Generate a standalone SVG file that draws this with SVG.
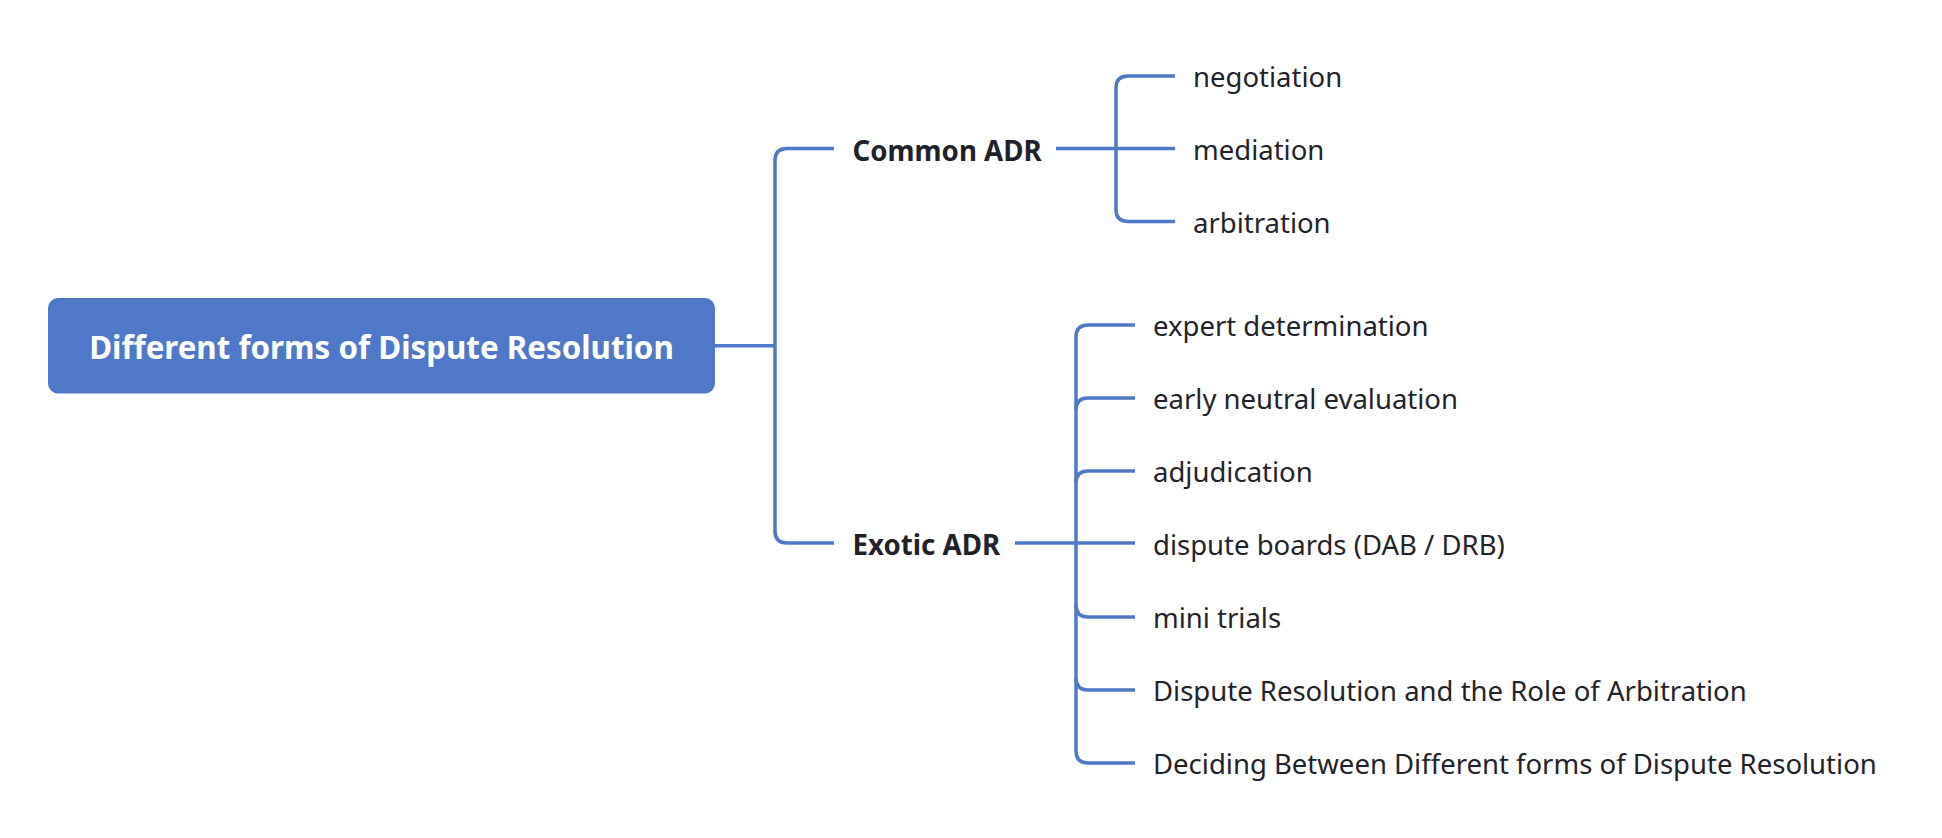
<svg xmlns="http://www.w3.org/2000/svg" width="1942" height="838" viewBox="0 0 1942 838">
<style>
.ln{fill:none;stroke:#5078c8;stroke-width:3.5;stroke-linecap:butt}
.root{fill:#5078c8}
.rt{font-family:"Noto Sans","Open Sans",sans-serif;font-weight:bold;font-size:31.3px;fill:#ffffff}
.b{font-family:"Noto Sans","Open Sans",sans-serif;font-weight:bold;font-size:27.7px;fill:#1f2329}
.t{font-family:"Noto Sans","Open Sans",sans-serif;font-size:27.5px;fill:#1f2329}
</style>
<rect width="1942" height="838" fill="#ffffff"/>
<g id="connectors">
<path class="ln" d="M715,345.7 H775"/>
<path class="ln" d="M834,148.5 H787 Q775,148.5 775,160.5 V531 Q775,543 787,543 H834"/>
<path class="ln" d="M1056,148.5 H1175"/>
<path class="ln" d="M1175,76 H1128 Q1116,76 1116,88 V209.5 Q1116,221.5 1128,221.5 H1175"/>
<path class="ln" d="M1015,543 H1135"/>
<path class="ln" d="M1135,325 H1088 Q1076,325 1076,337 V751 Q1076,763 1088,763 H1135"/>
<path class="ln" d="M1076,410 Q1076,398 1088,398 H1135"/>
<path class="ln" d="M1076,483 Q1076,471 1088,471 H1135"/>
<path class="ln" d="M1076,605 Q1076,617 1088,617 H1135"/>
<path class="ln" d="M1076,678 Q1076,690 1088,690 H1135"/>
</g>
<g id="root">
<rect class="root" x="48" y="298" width="667" height="95.5" rx="10"/>
<text class="rt" x="381.5" y="359" text-anchor="middle">Different forms of Dispute Resolution</text>
</g>
<g id="common-adr"><text class="b" x="852.5" y="160.5">Common ADR</text></g>
<g id="exotic-adr"><text class="b" x="852.5" y="554.5">Exotic ADR</text></g>
<g id="negotiation"><text class="t" x="1193" y="87">negotiation</text></g>
<g id="mediation"><text class="t" x="1193" y="159.5">mediation</text></g>
<g id="arbitration"><text class="t" x="1193" y="232.5">arbitration</text></g>
<g id="expert-determination"><text class="t" x="1153" y="336">expert determination</text></g>
<g id="early-neutral-evaluation"><text class="t" x="1153" y="409">early neutral evaluation</text></g>
<g id="adjudication"><text class="t" x="1153" y="482">adjudication</text></g>
<g id="dispute-boards"><text class="t" x="1153" y="555">dispute boards (DAB / DRB)</text></g>
<g id="mini-trials"><text class="t" x="1153" y="628">mini trials</text></g>
<g id="dispute-resolution-role"><text class="t" x="1153" y="701">Dispute Resolution and the Role of Arbitration</text></g>
<g id="deciding-between"><text class="t" x="1153" y="774">Deciding Between Different forms of Dispute Resolution</text></g>
</svg>
